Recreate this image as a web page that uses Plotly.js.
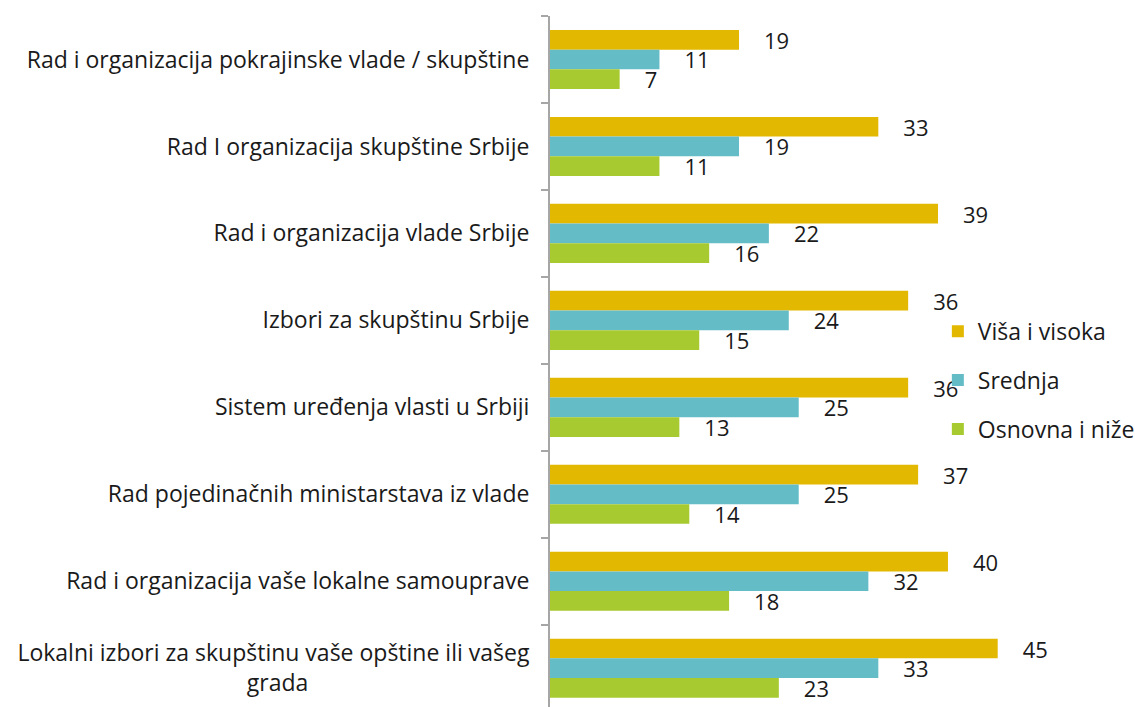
<!DOCTYPE html>
<html>
<head>
<meta charset="utf-8">
<script src="https://cdn.plot.ly/plotly-3.0.1.min.js"></script>
<style>html,body{margin:0;padding:0;background:#fff;}#chart{width:1135px;height:707px;}</style>
</head>
<body>
<div id="chart"></div>
<script>
const categories = [
  "Rad i organizacija pokrajinske vlade / skupštine",
  "Rad I organizacija skupštine Srbije",
  "Rad i organizacija vlade Srbije",
  "Izbori za skupštinu Srbije",
  "Sistem uređenja vlasti u Srbiji",
  "Rad pojedinačnih ministarstava iz vlade",
  "Rad i organizacija vaše lokalne samouprave",
  "Lokalni izbori za skupštinu vaše opštine ili vašeg grada"
];
const tickLabels = [
  "Rad i organizacija pokrajinske vlade / skupštine",
  "Rad I organizacija skupštine Srbije",
  "Rad i organizacija vlade Srbije",
  "Izbori za skupštinu Srbije",
  "Sistem uređenja vlasti u Srbiji",
  "Rad pojedinačnih ministarstava iz vlade",
  "Rad i organizacija vaše lokalne samouprave",
  "Lokalni izbori za skupštinu vaše opštine ili vašeg<br>grada" + "\u00a0".repeat(37)
];
const seriesNames = ["Viša i visoka", "Srednja", "Osnovna i niže"];
const visaVisoka = [19, 33, 39, 36, 36, 37, 40, 45];
const srednja    = [11, 19, 22, 24, 25, 25, 32, 33];
const osnovna    = [7, 11, 16, 15, 13, 14, 18, 23];
const colors = ["#E3B800", "#64BCC7", "#A6CA2F"];

const FONT = "'Open Sans', sans-serif";
const values = [visaVisoka, srednja, osnovna];
const traces = values.map((v, i) => ({
  type: "bar",
  orientation: "h",
  name: seriesNames[i],
  x: v,
  y: categories,
  marker: {color: colors[i], line: {width: 0}},
  text: v.map(String),
  texttemplate: "\u2002\u2002%{text}",
  textposition: "outside",
  constraintext: "none",
  cliponaxis: false,
  textfont: {family: FONT, size: 22, color: "#1a1a1a"},
  legendgroup: "g" + i,
  hoverinfo: "x+name"
}));

const layout = {
  width: 1135, height: 707,
  margin: {l: 550, r: 0, t: 16, b: 0, pad: 0, autoexpand: false},
  paper_bgcolor: "#ffffff", plot_bgcolor: "#ffffff",
  barmode: "group",
  bargap: 0.32, bargroupgap: 0,
  font: {family: FONT, size: 23, color: "#1a1a1a"},
  showlegend: true,
  legend: {x: 0.663, xanchor: "left", y: 0.575, yanchor: "top",
           bgcolor: "rgba(0,0,0,0)", font: {family: FONT, size: 23, color: "#1a1a1a"},
           tracegroupgap: 16, itemwidth: 30},
  xaxis: {range: [0, 58.8], showgrid: false, zeroline: false, showline: false,
          showticklabels: false, ticks: "", fixedrange: true},
  yaxis: {type: "category", categoryorder: "array", categoryarray: categories,
          range: [7.446, -0.5], tickmode: "array", tickvals: categories, ticktext: tickLabels,
          showline: true, linecolor: "#a6a6a6", linewidth: 2,
          ticks: "outside", tickson: "boundaries", ticklen: 7, tickcolor: "#a6a6a6", tickwidth: 2,
          ticklabelstandoff: 14, showgrid: false, zeroline: false, automargin: false,
          tickfont: {family: FONT, size: 23, color: "#1a1a1a"}}
};

Plotly.newPlot("chart", traces, layout, {displayModeBar: false, staticPlot: true});
</script>
</body>
</html>
